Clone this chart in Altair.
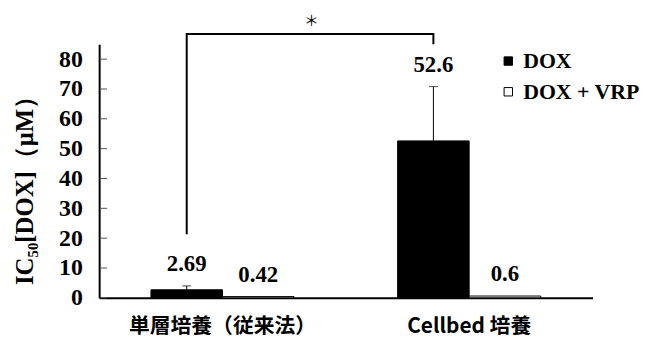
import altair as alt
import pandas as pd

groups = ["単層培養（従来法）", "Cellbed 培養"]
series = ["DOX", "DOX + VRP"]
dox_values = [2.69, 52.6]
vrp_values = [0.42, 0.6]
dox_errors = [1.3, 18.2]
dox_labels = ["2.69", "52.6"]
vrp_labels = ["0.42", "0.6"]
y_ticks = [0, 10, 20, 30, 40, 50, 60, 70, 80]
bracket_groups = [groups[0], groups[0], groups[1], groups[1]]
bracket_y = [21.3, 88.4, 88.4, 85.0]
star_y = 92.6
y_title = "IC₅₀[DOX]（μM）"

SERIF = "Liberation Serif"
CJK = "Noto Sans CJK JP"

bars_df = pd.DataFrame({
    "group": groups * 2,
    "series": [series[0]] * 2 + [series[1]] * 2,
    "value": dox_values + vrp_values,
})
err_df = pd.DataFrame({
    "group": groups,
    "series": [series[0]] * 2,
    "value": dox_values,
    "hi": [v + e for v, e in zip(dox_values, dox_errors)],
})
lab_df = pd.DataFrame({
    "group": groups * 2,
    "series": [series[0]] * 2 + [series[1]] * 2,
    "ly": [v + e for v, e in zip(dox_values, dox_errors)] + vrp_values,
    "label": dox_labels + vrp_labels,
})
br_df = pd.DataFrame({
    "group": bracket_groups,
    "series": [series[0]] * 4,
    "by": bracket_y,
    "o": [0, 1, 2, 3],
})
star_df = pd.DataFrame({"group": [groups[0]], "series": [series[0]], "sy": [star_y]})
tick_df = pd.DataFrame({"t": y_ticks})

yscale = alt.Scale(domain=[0, 85], nice=False, zero=True)
yaxis = alt.Axis(values=y_ticks, ticks=False, grid=False, domainWidth=2, domainColor="black",
                 labelFont=SERIF, labelFontWeight="bold", labelFontSize=24, labelColor="black",
                 labelPadding=17, titleFont=SERIF, titleFontWeight="bold", titleFontSize=25,
                 titleColor="black", titleX=-75, titleY=141, titleAngle=270,
                 titleAlign="center", titleBaseline="middle")

def Y(field):
    return alt.Y(field, type="quantitative", title=y_title, scale=yscale, axis=yaxis)

X = alt.X("group:N", sort=groups, title=None,
          scale=alt.Scale(paddingInner=0.42, paddingOuter=0.21),
          axis=alt.Axis(labelAngle=0, ticks=False, domainWidth=2, domainColor="black",
                        labelFont=CJK, labelFontWeight="bold", labelFontSize=21,
                        labelColor="black", labelPadding=18, labelLimit=400))
XO = alt.XOffset("series:N", sort=series, scale=alt.Scale(paddingInner=0, paddingOuter=0))

bars = alt.Chart(bars_df).mark_bar(stroke="black", strokeWidth=1).encode(
    x=X, xOffset=XO, y=Y("value"),
    fill=alt.Fill("series:N", sort=series,
                  scale=alt.Scale(domain=series, range=["black", "white"]),
                  legend=alt.Legend(title=None, orient="none", legendX=402, legendY=6,
                                    symbolType="square", symbolSize=72,
                                    symbolStrokeColor="black", symbolStrokeWidth=1,
                                    labelFont=SERIF, labelFontWeight="bold", labelFontSize=22,
                                    labelColor="black", rowPadding=9, labelOffset=4,
                                    labelLimit=300, padding=0, symbolOffset=0)),
)

err = alt.Chart(err_df).mark_rule(color="black", strokeWidth=1).encode(
    x=X, xOffset=XO, y=Y("value"), y2="hi")
caps = alt.Chart(err_df).mark_tick(color="black", thickness=1, size=9).encode(
    x=X, xOffset=XO, y=Y("hi"))

labels = alt.Chart(lab_df).mark_text(font=SERIF, fontWeight="bold", fontSize=23,
                                     color="black", baseline="alphabetic", dy=-15).encode(
    x=X, xOffset=XO, y=Y("ly"), text="label:N")

bracket = alt.Chart(br_df).mark_line(color="black", strokeWidth=2).encode(
    x=X, xOffset=XO, y=Y("by"), order="o:Q")

star = alt.Chart(star_df).mark_text(text="＊", font=CJK, fontSize=15, color="black",
                                    dx=126, baseline="middle").encode(
    x=X, xOffset=XO, y=Y("sy"))

ticks = alt.Chart(tick_df).mark_rule(color="#555555", strokeWidth=1).encode(
    x=alt.value(1), x2=alt.value(8), y=Y("t"))

chart = alt.layer(bars, err, caps, labels, bracket, star, ticks).properties(
    width=498, height=256,
    autosize=alt.AutoSizeParams(type="none"),
    padding={"left": 92, "top": 35, "right": 54, "bottom": 41},
).configure_view(stroke=None)

chart.save("out.html", embed_options={"renderer": "svg", "actions": False})
